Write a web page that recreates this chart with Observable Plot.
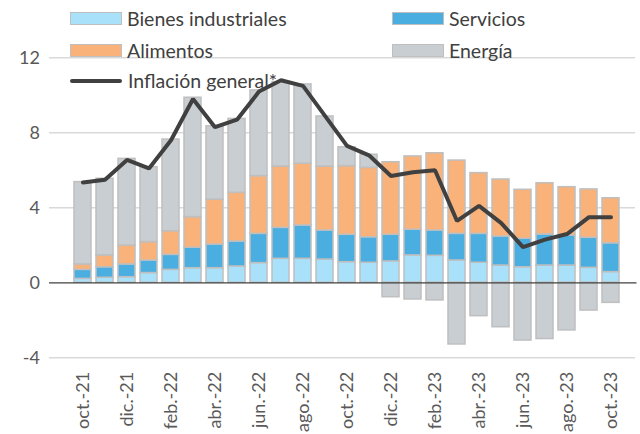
<!DOCTYPE html>
<html>
<head>
<meta charset="utf-8">
<script src="https://cdn.jsdelivr.net/npm/d3@7"></script>
<script src="https://cdn.jsdelivr.net/npm/@observablehq/plot@0.6"></script>
<style>
  html, body { margin: 0; padding: 0; background: #ffffff; }
  #wrap { position: relative; width: 640px; height: 434px; font-family: Lato, "Liberation Sans", sans-serif; }
  .leg { position: absolute; display: flex; align-items: center; font-size: 19.5px; color: #404040; white-space: nowrap; }
  .sw { width: 50px; height: 11px; border: 1.5px solid #BFBFBF; margin-right: 5px; }
  .ln { width: 52px; height: 4px; background: #404040; margin-right: 6px; border-radius: 2px; }
</style>
</head>
<body>
<div id="wrap"></div>
<script>
const months = ["oct.-21","nov.-21","dic.-21","ene.-22","feb.-22","mar.-22","abr.-22","may.-22","jun.-22","jul.-22","ago.-22","sep.-22","oct.-22","nov.-22","dic.-22","ene.-23","feb.-23","mar.-23","abr.-23","may.-23","jun.-23","jul.-23","ago.-23","sep.-23","oct.-23"];
const bienesIndustriales = [0.21,0.27,0.30,0.52,0.69,0.78,0.78,0.87,1.05,1.28,1.28,1.24,1.10,1.07,1.14,1.46,1.44,1.19,1.07,0.92,0.83,0.92,0.92,0.80,0.57];
const servicios = [0.48,0.56,0.68,0.67,0.80,1.09,1.26,1.33,1.56,1.65,1.78,1.55,1.46,1.36,1.42,1.37,1.35,1.42,1.54,1.55,1.52,1.66,1.60,1.60,1.54];
const alimentos = [0.29,0.63,1.01,0.98,1.26,1.63,2.40,2.60,3.08,3.27,3.29,3.41,3.66,3.70,3.87,3.91,4.12,3.91,3.24,3.04,2.61,2.73,2.58,2.58,2.40];
const energia = [4.39,4.09,4.62,4.00,4.89,6.37,3.91,3.94,4.57,4.50,4.23,2.67,1.01,0.70,-0.77,-0.89,-0.94,-3.29,-1.78,-2.37,-3.08,-3.00,-2.54,-1.48,-1.07];
const inflacionGeneral = [5.35,5.5,6.55,6.1,7.6,9.8,8.3,8.7,10.2,10.8,10.5,8.9,7.3,6.8,5.7,5.9,6.0,3.3,4.1,3.2,1.9,2.3,2.6,3.5,3.5];
const seriesNames = ["Bienes industriales","Servicios","Alimentos","Energía"];
const seriesColors = ["#A9E0FA","#4AAEE0","#F8B27A","#C8CED2"];
const lineName = "Inflación general*";
const yTicks = [-4,0,4,8,12];
const xTickLabels = ["oct.-21","dic.-21","feb.-22","abr.-22","jun.-22","ago.-22","oct.-22","dic.-22","feb.-23","abr.-23","jun.-23","ago.-23","oct.-23"];

const seriesValues = [bienesIndustriales, servicios, alimentos, energia];
const rows = [];
months.forEach((m, i) => {
  seriesNames.forEach((s, j) => rows.push({month: m, serie: s, value: seriesValues[j][i]}));
});
const lineRows = months.map((m, i) => ({month: m, value: inflacionGeneral[i]}));

const chart = Plot.plot({
  width: 640,
  height: 434,
  marginTop: 57.3,
  marginBottom: 76.7,
  marginLeft: 59.5,
  marginRight: 6.5,
  style: {fontFamily: "Lato, 'Liberation Sans', sans-serif", fontSize: "18px", color: "#595959", background: "transparent", overflow: "visible"},
  x: {domain: months, paddingInner: 0.22, paddingOuter: 0.11, label: null},
  y: {domain: [-4, 12], label: null},
  color: {domain: seriesNames, range: seriesColors},
  marks: [
    Plot.ruleY(yTicks.filter(d => d !== 0), {stroke: "#D9D9D9", strokeWidth: 1.5, insetLeft: -10.5, insetRight: -1.5}),
    Plot.barY(rows, Plot.stackY({x: "month", y: "value", fill: "serie", stroke: "#BFBFBF", strokeWidth: 1.5})),
    Plot.ruleY([0], {stroke: "#404040", strokeWidth: 1.2, insetLeft: -10.5, insetRight: -3}),
    Plot.lineY(lineRows, {x: "month", y: "value", stroke: "#404040", strokeWidth: 4, strokeLinejoin: "miter"}),
    Plot.axisY({ticks: yTicks, tickSize: 0, tickPadding: 20, fontSize: 18, tickFormat: d => String(d)}),
    Plot.axisX({ticks: xTickLabels, tickRotate: -90, tickSize: 0, tickPadding: 14, fontSize: 18})
  ]
});

const wrap = document.getElementById("wrap");
wrap.appendChild(chart);

function legendItem(left, top, label, color, isLine) {
  const d = document.createElement("div");
  d.className = "leg";
  d.style.left = left + "px";
  d.style.top = top + "px";
  const s = document.createElement("span");
  if (isLine) { s.className = "ln"; }
  else { s.className = "sw"; s.style.background = color; }
  d.appendChild(s);
  d.appendChild(document.createTextNode(label));
  wrap.appendChild(d);
}
legendItem(70, 7, seriesNames[0], seriesColors[0]);
legendItem(392, 7, seriesNames[1], seriesColors[1]);
legendItem(70, 39, seriesNames[2], seriesColors[2]);
legendItem(392, 39, seriesNames[3], seriesColors[3]);
legendItem(70, 69, lineName, null, true);
</script>
</body>
</html>
